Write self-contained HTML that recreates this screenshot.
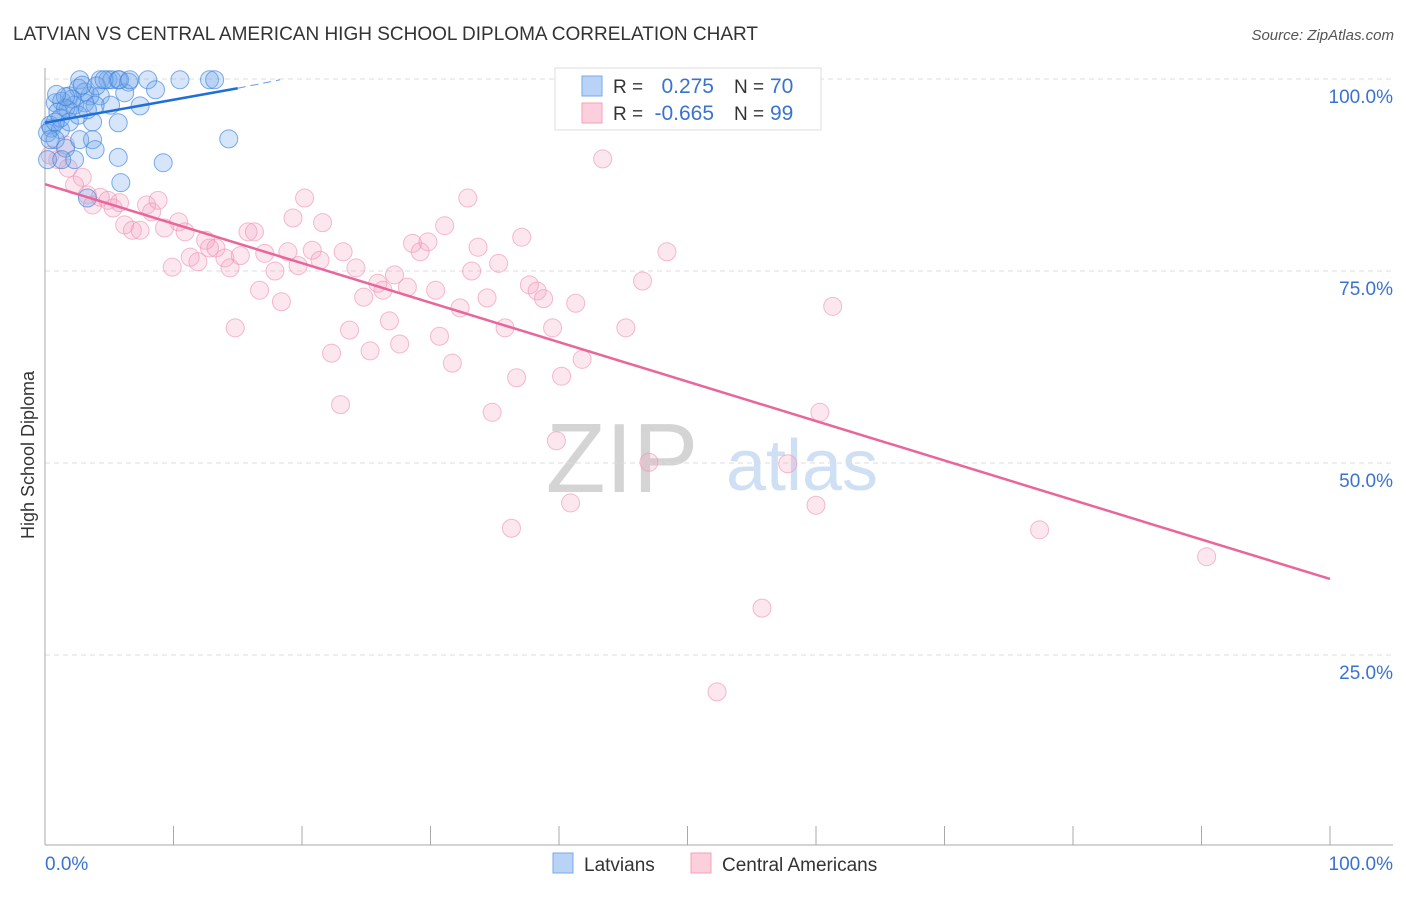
<!DOCTYPE html>
<html><head><meta charset="utf-8"><style>
body{margin:0;background:#fff;font-family:"Liberation Sans",sans-serif}
svg text{font-family:"Liberation Sans",sans-serif}
</style></head><body>
<svg id="chart" width="1406" height="892" xmlns="http://www.w3.org/2000/svg">
<text x="13" y="40" font-size="19" fill="#333">LATVIAN VS CENTRAL AMERICAN HIGH SCHOOL DIPLOMA CORRELATION CHART</text>
<text x="1394" y="40" font-size="15" fill="#555" font-style="italic" text-anchor="end">Source: ZipAtlas.com</text>
<text x="622" y="492" font-size="98" fill="#d4d4d4" font-family="Liberation Serif" text-anchor="middle">ZIP</text>
<text x="802" y="490" font-size="72" fill="#cfe0f5" text-anchor="middle">atlas</text>
<g id="grid"></g><g id="axes"></g><g id="pts"></g><g id="lines"></g>
<text transform="translate(34,455) rotate(-90)" font-size="18" fill="#333" text-anchor="middle">High School Diploma</text>
<g>
<rect x="555" y="68" width="266" height="62" fill="#fff" stroke="#ddd"/>
<rect x="582" y="76" width="20" height="20" fill="#b8d3f5" stroke="#7aa8ea"/>
<rect x="582" y="103" width="20" height="20" fill="#fbd0dc" stroke="#f3a0b8"/>
<text x="613" y="93" font-size="19" fill="#333">R =</text><text x="714" y="93" font-size="21" fill="#3a72d0" text-anchor="end">0.275</text>
<text x="734" y="93" font-size="19" fill="#333">N =</text><text x="770" y="93" font-size="21" fill="#3a72d0">70</text>
<text x="613" y="120" font-size="19" fill="#333">R =</text><text x="714" y="120" font-size="21" fill="#3a72d0" text-anchor="end">-0.665</text>
<text x="734" y="120" font-size="19" fill="#333">N =</text><text x="770" y="120" font-size="21" fill="#3a72d0">99</text>
</g>
<g>
<rect x="553" y="853" width="20" height="20" fill="#b8d3f5" stroke="#7aa8ea"/>
<text x="584" y="871" font-size="19" fill="#333">Latvians</text>
<rect x="691" y="853" width="20" height="20" fill="#fbd0dc" stroke="#f3a0b8"/>
<text x="722" y="871" font-size="19" fill="#333">Central Americans</text>
</g>
</svg>
<script>
const blueX=[0.8,1.3,1.9,2.7,4.3,4.9,5.2,5.7,6.5,8.0,10.5,12.8,13.2,8.6,6.2,7.4,4.3,3.5,2.3,3.1,1.8,1.0,0.4,0.5,1.2,0.2,0.8,1.6,2.7,3.7,3.9,5.7,3.7,5.7,9.2,14.3,5.9,3.3,2.6,3.1,2.1,1.6,1.2,0.4,0.2,5.1,4.0,4.6,2.9,1.9,0.8,2.3,1.3,5.8,6.6,3.9,2.6,3.3,1.6,0.9];
const blueY=[96.9,97.1,97.8,99.9,99.9,99.9,99.9,99.9,99.6,99.9,99.9,99.9,99.9,98.6,98.2,96.5,97.8,97.8,96.6,96.9,96.0,95.7,94.0,93.6,93.4,93.0,92.1,91.0,92.1,92.1,90.8,94.3,94.4,89.8,89.1,92.2,86.5,84.5,98.8,98.3,97.4,96.2,94.9,92.1,89.5,96.6,99.1,99.9,99.2,94.4,94.4,89.5,89.5,99.9,99.9,96.6,95.3,96.0,97.7,98.0];
const pinkX=[0.4,1.0,1.6,1.8,2.3,2.9,3.3,3.7,4.3,4.9,5.3,5.8,6.2,6.8,7.4,7.9,8.3,8.8,9.3,9.9,10.4,10.9,11.3,11.9,12.5,12.8,13.3,14.0,14.4,14.8,15.2,15.8,16.3,16.7,17.1,17.9,18.4,18.9,19.3,19.7,20.2,20.8,21.4,21.6,22.3,23.0,23.2,23.7,24.2,24.8,25.3,25.9,26.3,26.8,27.2,27.6,28.2,28.6,29.2,29.8,30.4,30.7,31.1,31.7,32.3,32.9,33.2,33.7,34.4,34.8,35.3,35.8,36.3,36.7,37.1,37.7,38.3,38.8,39.5,39.8,40.2,40.9,41.3,41.8,43.4,45.2,46.5,47.0,48.4,52.3,55.8,57.8,60.0,60.3,61.3,77.4,90.4,43.0];
const pinkY=[90.1,89.5,91.4,88.4,86.2,87.2,84.9,83.6,84.6,84.2,83.2,83.9,81.0,80.3,80.3,83.6,82.7,84.2,80.6,75.5,81.4,80.1,76.8,76.2,79.0,78.0,78.0,76.7,75.4,67.6,77.0,80.1,80.1,72.5,77.3,75.0,71.0,77.5,81.9,75.7,84.5,77.7,76.4,81.3,64.3,57.6,77.5,67.3,75.4,71.6,64.6,73.4,72.5,68.5,74.5,65.5,72.9,78.6,77.5,78.8,72.5,66.5,80.9,63.0,70.2,84.5,75.0,78.1,71.5,56.6,76.0,67.6,41.5,61.1,79.4,73.2,72.4,71.4,67.6,52.9,61.3,44.8,70.8,63.5,89.6,67.6,73.7,50.1,77.5,20.2,31.1,49.9,44.5,56.6,70.4,41.3,37.8,97.8];
const yTicks=[100,75,50,25];
const yTickLabels=["100.0%","75.0%","50.0%","25.0%"];
const xTicks=[0,10,20,30,40,50,60,70,80,90,100];
const blueTrend=[[0,94.3],[15,98.8]];
const blueTrendDash=[[15,98.8],[18.3,99.9]];
const pinkTrend=[[0,86.3],[100,34.9]];
const NS="http://www.w3.org/2000/svg";
const sx=v=>45+v*12.85, sy=v=>847-v*7.68;
function mk(p,tag,a){const e=document.createElementNS(NS,tag);for(const k in a)e.setAttribute(k,a[k]);document.getElementById(p).appendChild(e);return e;}
yTicks.forEach((t,i)=>{
 const l=mk('grid','line',{x1:45,x2:1393,y1:sy(t),y2:sy(t),stroke:'#ddd','stroke-dasharray':'5,4'});
 
 
 const tx=mk('grid','text',{x:1393,y:sy(t)+24,'font-size':19,fill:'#3a72d0','text-anchor':'end'});
 tx.textContent=yTickLabels[i];
 
 
});
const ax=mk('axes','line',{x1:45,x2:45,y1:68,y2:845,stroke:'#aaa'});


const bx=mk('axes','line',{x1:45,x2:1393,y1:845,y2:845,stroke:'#aaa'});


xTicks.forEach(t=>{
 const l=mk('axes','line',{x1:sx(t),x2:sx(t),y1:826,y2:845,stroke:'#aaa'});
 
 
});
[[0,'0.0%','start',45],[100,'100.0%','end',1393]].forEach(d=>{
 const t=mk('axes','text',{x:d[3],y:870,'font-size':19,fill:'#3a72d0','text-anchor':d[2]});
 t.textContent=d[1];
 
 
});
pinkX.forEach((x,i)=>{
 const c=mk('pts','circle',{cx:sx(x),cy:sy(pinkY[i]),r:9,fill:'rgba(245,160,190,0.25)',stroke:'rgba(240,150,180,0.65)','stroke-width':1});
 
 
});
blueX.forEach((x,i)=>{
 const c=mk('pts','circle',{cx:sx(x),cy:sy(blueY[i]),r:9,fill:'rgba(120,170,235,0.3)',stroke:'rgba(60,130,220,0.65)','stroke-width':1});
 
 
});
const bl=mk('lines','line',{x1:sx(blueTrend[0][0]),y1:sy(blueTrend[0][1]),x2:sx(blueTrend[1][0]),y2:sy(blueTrend[1][1]),stroke:'#1f6fd9','stroke-width':2.5});


const bd=mk('lines','line',{x1:sx(blueTrendDash[0][0]),y1:sy(blueTrendDash[0][1]),x2:sx(blueTrendDash[1][0]),y2:sy(blueTrendDash[1][1]),stroke:'#6a9be0','stroke-width':1,'stroke-dasharray':'8,5'});


const pl=mk('lines','line',{x1:sx(pinkTrend[0][0]),y1:sy(pinkTrend[0][1]),x2:sx(pinkTrend[1][0]),y2:sy(pinkTrend[1][1]),stroke:'#e8669a','stroke-width':2.5});


</script>
</body></html>
